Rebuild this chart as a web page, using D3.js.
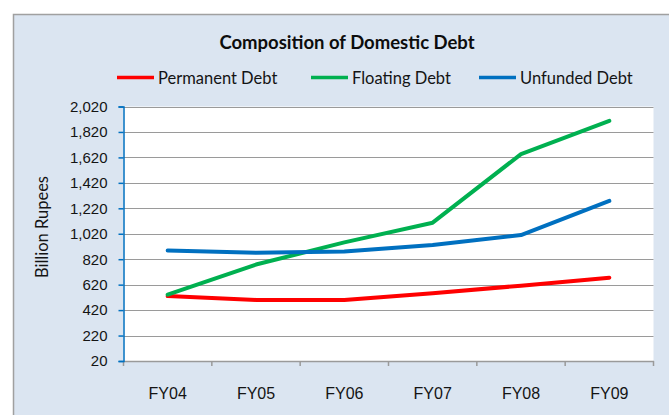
<!DOCTYPE html>
<html>
<head>
<meta charset="utf-8">
<script src="https://cdn.jsdelivr.net/npm/d3@7.9.0/dist/d3.min.js"></script>
<style>
  html, body { margin: 0; padding: 0; background: #fff; }
  svg { display: block; font-family: Lato, 'Open Sans', sans-serif; }
</style>
</head>
<body>
<svg id="chart" width="669" height="415"></svg>
<script>
// chart data
const years = ['FY04', 'FY05', 'FY06', 'FY07', 'FY08', 'FY09'];
const permanentDebt = [530, 500, 500, 552, 612, 675];
const floatingDebt = [541, 778, 952, 1107, 1646, 1907];
const unfundedDebt = [888, 870, 880, 931, 1010, 1278];
const yTicks = [20, 220, 420, 620, 820, 1020, 1220, 1420, 1620, 1820, 2020];

const series = [
  { name: 'Permanent Debt', values: permanentDebt, color: '#ff0000' },
  { name: 'Floating Debt', values: floatingDebt, color: '#00b050' },
  { name: 'Unfunded Debt', values: unfundedDebt, color: '#0070c0' },
];

const svg = d3.select('#chart');
const plot = { left: 123.5, right: 653.5, top: 106.5, bottom: 361 };
const textColor = '#141414';

// chart background with border on left/top
svg.append('rect')
  .attr('x', 13.5).attr('y', 14.5)
  .attr('width', 700).attr('height', 450)
  .attr('fill', '#dbe5f1')
  .attr('stroke', '#a0a0a0')
  .attr('stroke-width', 1.5);

svg.append('rect')
  .attr('x', plot.left).attr('y', plot.top)
  .attr('width', plot.right - plot.left)
  .attr('height', plot.bottom - plot.top)
  .attr('fill', '#fff');

const x = d3.scaleBand().domain(years).range([plot.left, plot.right]);
const y = d3.scaleLinear().domain([20, 2020]).range([plot.bottom, plot.top]);

// gridlines
svg.append('g')
  .selectAll('line')
  .data(yTicks.slice(1))
  .join('line')
  .attr('x1', plot.left).attr('x2', plot.right)
  .attr('y1', (d) => Math.round(y(d)) + 0.5)
  .attr('y2', (d) => Math.round(y(d)) + 0.5)
  .attr('stroke', '#9a9a9a')
  .attr('stroke-width', 1);

// x axis
const xAxis = svg.append('g')
  .attr('transform', `translate(0,${plot.bottom})`)
  .call(d3.axisBottom(x).tickSize(0).tickPadding(27));
xAxis.select('.domain').attr('stroke', '#9a9a9a').attr('stroke-width', 1.5);
xAxis.selectAll('text')
  .attr('font-size', 16)
  .attr('fill', textColor);

const xTickPos = years.map((d) => x(d)).concat([plot.right]);
xAxis.selectAll('.edge-tick')
  .data(xTickPos)
  .join('line')
  .attr('class', 'edge-tick')
  .attr('x1', (d) => d).attr('x2', (d) => d)
  .attr('y1', 0).attr('y2', 5)
  .attr('stroke', '#9a9a9a')
  .attr('stroke-width', 1.5);

// y axis
const yAxis = svg.append('g')
  .attr('transform', `translate(${plot.left},0)`)
  .call(d3.axisLeft(y).tickValues(yTicks).tickSize(5).tickPadding(11)
    .tickFormat(d3.format(',')));
yAxis.select('.domain').attr('stroke', '#0070c0').attr('stroke-width', 1.5);
yAxis.selectAll('.tick line').attr('stroke', '#0070c0').attr('stroke-width', 1.5);
yAxis.selectAll('text')
  .attr('font-size', 15)
  .attr('fill', textColor);

svg.append('text')
  .attr('transform', 'translate(48,227) rotate(-90)')
  .attr('text-anchor', 'middle')
  .attr('font-size', 16.5)
  .attr('fill', textColor)
  .text('Billion Rupees');

// lines
const line = d3.line()
  .x((d, i) => x(years[i]) + x.bandwidth() / 2)
  .y((d) => y(d));

svg.append('g')
  .selectAll('path')
  .data(series)
  .join('path')
  .attr('d', (d) => line(d.values))
  .attr('fill', 'none')
  .attr('stroke', (d) => d.color)
  .attr('stroke-width', 4)
  .attr('stroke-linejoin', 'round')
  .attr('stroke-linecap', 'round');

// title
svg.append('text')
  .attr('x', 347).attr('y', 49)
  .attr('text-anchor', 'middle')
  .attr('font-size', 18.5)
  .attr('font-weight', 'bold')
  .attr('fill', '#0d0d0d')
  .text('Composition of Domestic Debt');

// legend
const legendX = [117, 311, 479];
const legend = svg.append('g')
  .selectAll('g')
  .data(series)
  .join('g')
  .attr('transform', (d, i) => `translate(${legendX[i]},77.5)`);
legend.append('line')
  .attr('x1', 0).attr('x2', 37)
  .attr('stroke', (d) => d.color)
  .attr('stroke-width', 3.5);
legend.append('text')
  .attr('x', 41).attr('y', 6)
  .attr('font-size', 16.5)
  .attr('fill', textColor)
  .text((d) => d.name);
</script>
</body>
</html>
